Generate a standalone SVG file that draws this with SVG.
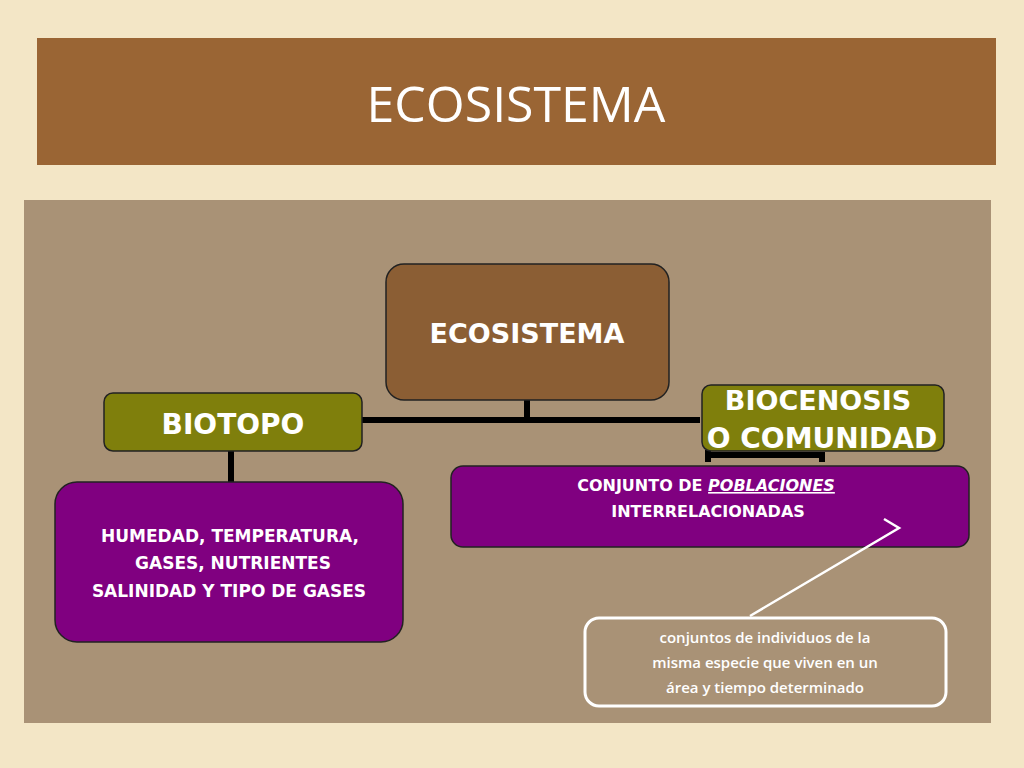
<svg xmlns="http://www.w3.org/2000/svg" width="1024" height="768" viewBox="0 0 1024 768">
<style>
.b{font-family:"DejaVu Sans",sans-serif;font-weight:bold;fill:#fff;text-anchor:middle}
.n{stroke:#222;stroke-width:1.5}
.c{stroke:#000;stroke-width:6;fill:none}
</style>
<rect width="1024" height="768" fill="#f3e6c6"/>
<rect x="37" y="38" width="959" height="127" fill="#9a6534"/>
<text x="516" y="122" font-family="Open Sans,sans-serif" font-size="50" fill="#fff" text-anchor="middle">ECOSISTEMA</text>
<rect x="24" y="200" width="967" height="523" fill="#a99276"/>
<g id="connectors">
<path class="c" d="M527 400V418M360 420H700M231 450V482M708 450V462M708 455H822V462"/>
</g>
<g id="ecosistema"><rect class="n" x="386" y="264" width="283" height="136" rx="18" fill="#8b5e34"/>
<text class="b" x="527" y="343" font-size="27">ECOSISTEMA</text></g>
<g id="biotopo"><rect class="n" x="104" y="393" width="258" height="58" rx="9" fill="#7f7f0c"/>
<text class="b" x="233" y="434" font-size="28">BIOTOPO</text></g>
<g id="biocenosis"><rect class="n" x="702" y="385" width="242" height="66" rx="9" fill="#7f7f0c"/>
<text class="b" x="818" y="410" font-size="27">BIOCENOSIS</text>
<text class="b" x="822" y="448" font-size="28">O COMUNIDAD</text></g>
<g id="biotopo-detalle"><rect class="n" x="55" y="482" width="348" height="160" rx="22" fill="#800080"/>
<text class="b" x="230" y="542" font-size="17">HUMEDAD, TEMPERATURA,</text>
<text class="b" x="233" y="569" font-size="17">GASES, NUTRIENTES</text>
<text class="b" x="229" y="597" font-size="17">SALINIDAD Y TIPO DE GASES</text></g>
<g id="conjunto"><rect class="n" x="451" y="466" width="518" height="81" rx="12" fill="#800080"/>
<text class="b" x="706" y="491" font-size="16">CONJUNTO DE <tspan font-style="italic" text-decoration="underline">POBLACIONES</tspan></text>
<text class="b" x="708" y="517" font-size="16">INTERRELACIONADAS</text></g>
<g id="callout-line"><path d="M884 519L899 528L750 616" stroke="#fff" stroke-width="2.5" fill="none"/></g>
<g id="nota"><rect x="585" y="618" width="361" height="88" rx="14" fill="none" stroke="#fff" stroke-width="3"/>
<text x="765" y="643" font-family="Open Sans,sans-serif" font-size="15" font-weight="600" fill="#fff" text-anchor="middle">conjuntos de individuos de la</text>
<text x="765" y="668" font-family="Open Sans,sans-serif" font-size="15" font-weight="600" fill="#fff" text-anchor="middle">misma especie que viven en un</text>
<text x="765" y="693" font-family="Open Sans,sans-serif" font-size="15" font-weight="600" fill="#fff" text-anchor="middle">área y tiempo determinado</text></g>
</svg>
